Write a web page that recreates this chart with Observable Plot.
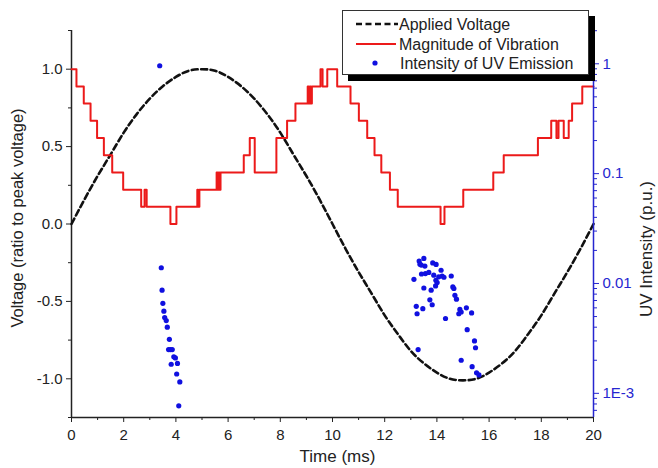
<!DOCTYPE html>
<html><head><meta charset="utf-8">
<script src="https://cdn.jsdelivr.net/npm/d3@7"></script>
<script src="https://cdn.jsdelivr.net/npm/@observablehq/plot@0.6"></script>
<style>
html,body{margin:0;padding:0;background:#fff;}
#wrap{position:relative;width:658px;height:468px;overflow:hidden;font-family:'Liberation Sans',Arial,sans-serif;}
#wrap > svg{position:absolute;left:0;top:0;}
#legend{position:absolute;left:342px;top:10px;width:245px;height:63px;border:1px solid #333;background:#fff;box-shadow:6px 6px 0 #000;}
#legend svg{position:absolute;left:0;top:0;}
</style></head><body><div id="wrap"></div>
<script>
// ---- Applied voltage (ratio to peak) ----
const voltageTime = [0,0.5,1,1.5,2,2.5,3,3.5,4,4.5,5,5.5,6,6.5,7,7.5,8,8.5,9,9.5,10,10.5,11,11.5,12,12.5,13,13.5,14,14.5,15,15.5,16,16.5,17,17.5,18,18.5,19,19.5,20];
const voltageValue = [0.00,0.16,0.31,0.45,0.59,0.71,0.81,0.89,0.95,0.99,1.00,0.99,0.95,0.89,0.81,0.71,0.59,0.45,0.31,0.16,0.00,-0.16,-0.31,-0.45,-0.59,-0.71,-0.82,-0.90,-0.96,-1.00,-1.01,-1.00,-0.96,-0.90,-0.82,-0.71,-0.59,-0.45,-0.31,-0.16,0.00];

// ---- Magnitude of vibration: step changes (time, level in ratio) ----
const vibTime  = [0,0.19,0.47,0.73,0.98,1.24,1.56,1.98,2.67,2.80,2.88,3.79,4.02,4.82,4.85,4.90,5.56,5.60,5.64,5.67,5.71,6.60,6.83,7.02,7.85,8.26,8.58,9.05,9.09,9.13,9.17,9.21,9.54,9.62,9.80,10.18,10.69,11.01,11.33,11.61,11.87,12.20,12.50,14.14,14.29,15.01,16.16,16.56,17.87,18.38,18.58,18.66,18.86,19.05,19.18,19.57,20];
const vibValue = [1.000,0.889,0.778,0.667,0.556,0.444,0.333,0.222,0.111,0.222,0.111,0.000,0.111,0.222,0.111,0.222,0.333,0.222,0.333,0.222,0.333,0.444,0.556,0.333,0.556,0.667,0.778,0.889,0.778,0.889,0.778,0.889,1.000,0.889,1.000,0.889,0.778,0.667,0.556,0.444,0.333,0.222,0.111,0.000,0.111,0.222,0.333,0.444,0.556,0.667,0.556,0.667,0.556,0.667,0.778,0.889,0.889];

// ---- Intensity of UV emission (p.u.) ----
const uvTime = [3.38,3.44,3.47,3.50,3.54,3.57,3.63,3.67,3.75,3.72,3.79,3.86,3.92,3.98,3.82,4.06,4.03,4.15,4.11,
  13.50,13.32,13.35,13.54,13.40,13.84,13.97,13.56,13.41,13.69,13.88,14.16,14.20,14.27,14.07,13.96,14.01,13.95,14.55,13.12,13.50,13.78,14.61,14.65,14.69,14.75,13.73,13.82,13.21,13.46,13.24,14.88,14.93,14.84,15.13,15.33,14.33,15.16,15.44,15.48,13.28,14.93,15.35,15.52,15.61];
const uvIntensity = [0.96,0.0139,0.0087,0.0066,0.0056,0.0049,0.0046,0.0040,0.0031,0.0025,0.0025,0.0025,0.00215,0.0021,0.00184,0.00187,0.0015,0.00127,0.00077,
  0.0169,0.0160,0.0150,0.0144,0.0147,0.0154,0.0149,0.0123,0.0122,0.0126,0.0119,0.0132,0.0117,0.0114,0.0115,0.0107,0.0102,0.0095,0.0117,0.0109,0.0091,0.0087,0.0093,0.0090,0.0078,0.0072,0.0071,0.0064,0.0062,0.0059,0.0053,0.0058,0.0055,0.0053,0.0060,0.0054,0.0048,0.0038,0.0030,0.0026,0.0025,0.0020,0.00175,0.00154,0.00147];

// ---- Ticks ----
const xMajorTicks = [0,2,4,6,8,10,12,14,16,18,20];
const xMinorTicks = [1,3,5,7,9,11,13,15,17,19];
const yMajorTicks = [-1.0,-0.5,0.0,0.5,1.0];
const yMinorTicks = [-1.25,-0.75,-0.25,0.25,0.75,1.25];
const logMajorTicks = [1,0.1,0.01,0.001];
const logMajorLabels = ["1","0.1","0.01","1E-3"];
const logMinorTicks = [];
for (const p of [0.0001,0.001,0.01,0.1,1]) for (let m=2;m<=9;m++) logMinorTicks.push(+(m*p).toPrecision(3));

const W=658, H=468, mt=30, mr=65, mb=51, ml=71;
const FONT = "'Liberation Sans', Arial, sans-serif";
const BLUE = "#2626d0", DOT = "#1010e0", RED = "#ec1a1a";

const voltage = voltageTime.map((t,i)=>({t, v: voltageValue[i]}));
const vib = vibTime.map((t,i)=>({t, v: vibValue[i]}));
const uv = uvTime.map((t,i)=>({t, I: uvIntensity[i]}));

const common = {width: W, height: H, marginTop: mt, marginRight: mr, marginBottom: mb, marginLeft: ml};

const p1 = Plot.plot({
  ...common,
  style: {fontFamily: FONT, fontSize: "15px", color: "#222", background: "transparent", overflow: "visible"},
  x: {domain: [0,20], label: null},
  y: {domain: [-1.25,1.25], label: null},
  marks: [
    Plot.axisX({ticks: xMajorTicks, tickSize: 5, tickPadding: 7, fontSize: 15, label: null, tickFormat: d => String(d)}),
    Plot.axisX({ticks: xMinorTicks, tickSize: 3, label: null, tickFormat: () => ""}),
    Plot.axisY({ticks: yMajorTicks, tickSize: 5, tickPadding: 4, fontSize: 15, label: null, tickFormat: d => d.toFixed(1)}),
    Plot.axisY({ticks: yMinorTicks, tickSize: 3, label: null, tickFormat: () => ""}),
    Plot.ruleX([0], {stroke: "#222", strokeWidth: 1.5}),
    Plot.ruleY([-1.25], {stroke: "#222", strokeWidth: 1.5}),
    Plot.text(["Time (ms)"], {text: d => d, frameAnchor: "bottom", textAnchor: "middle", lineAnchor: "middle", dy: 39, dx: 5, fontSize: 17, fill: "#222"}),
    Plot.text(["Voltage (ratio to peak voltage)"], {text: d => d, frameAnchor: "left", textAnchor: "middle", lineAnchor: "middle", dx: -54, dy: -6, rotate: -90, fontSize: 16.5, fill: "#222"}),
    Plot.line(voltage, {x: "t", y: "v", stroke: "#111", strokeWidth: 2.6, strokeDasharray: "6,3.5", curve: "natural"}),
    Plot.line(vib, {x: "t", y: "v", stroke: RED, strokeWidth: 2, curve: "step-after"})
  ]
});

const p2 = Plot.plot({
  ...common,
  style: {fontFamily: FONT, fontSize: "15px", color: BLUE, background: "transparent", overflow: "visible"},
  x: {domain: [0,20], label: null, axis: null},
  y: {type: "log", domain: [Math.pow(10,-3.22), Math.pow(10,0.303)], label: null},
  marks: [
    Plot.ruleX([20], {stroke: BLUE, strokeWidth: 1.5}),
    Plot.axisY({anchor: "right", ticks: logMajorTicks, tickSize: 5, tickPadding: 4, fontSize: 15, label: null,
      tickFormat: d => logMajorLabels[logMajorTicks.indexOf(d)] ?? ""}),
    Plot.axisY({anchor: "right", ticks: logMinorTicks.filter(v => v > Math.pow(10,-3.22) && v < Math.pow(10,0.303)), tickSize: 3, label: null, tickFormat: () => ""}),
    Plot.text(["UV Intensity (p.u.)"], {text: d => d, frameAnchor: "right", textAnchor: "middle", lineAnchor: "middle", dx: 53, dy: 25, rotate: -90, fontSize: 17, fill: "#222"}),
    Plot.dot(uv, {x: "t", y: "I", r: 2.6, fill: DOT, stroke: "none"})
  ]
});

const wrap = document.getElementById("wrap");
wrap.appendChild(p1);
wrap.appendChild(p2);

// ---- Legend ----
const legend = document.createElement("div");
legend.id = "legend";
legend.innerHTML = `<svg width="245" height="63" style="font-family:${FONT};font-size:16px;fill:#222">
  <line x1="13" x2="55" y1="13" y2="13" stroke="#111" stroke-width="2.6" stroke-dasharray="6,3.5"/>
  <text x="56" y="13" dominant-baseline="central">Applied Voltage</text>
  <line x1="13" x2="53" y1="33" y2="33" stroke="${RED}" stroke-width="2"/>
  <text x="56" y="33" dominant-baseline="central">Magnitude of Vibration</text>
  <circle cx="32" cy="52" r="2.6" fill="${DOT}"/>
  <text x="57" y="52" dominant-baseline="central">Intensity of UV Emission</text>
</svg>`;
wrap.appendChild(legend);
</script></body></html>
